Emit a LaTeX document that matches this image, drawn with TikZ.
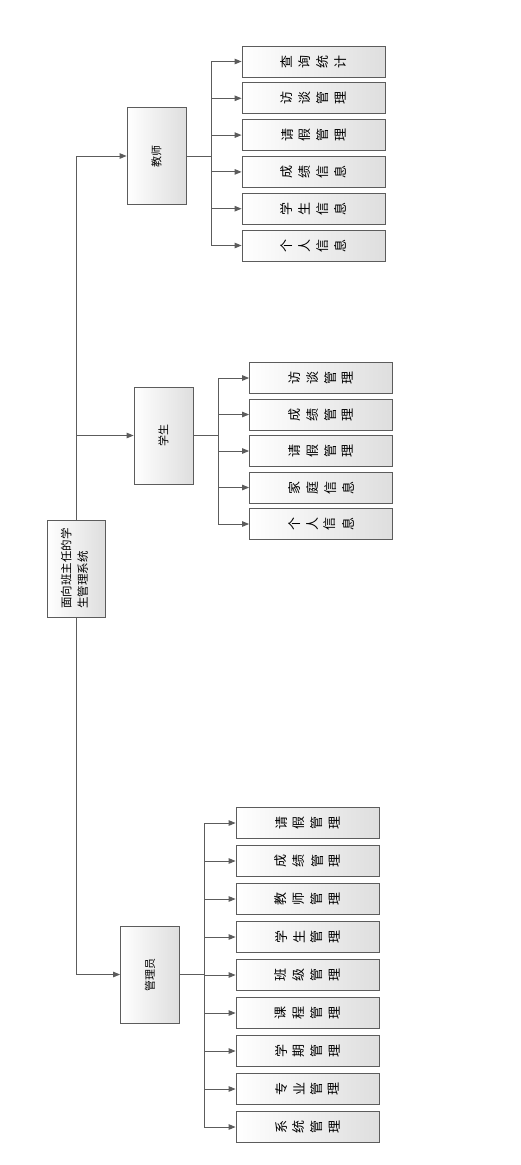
\documentclass[tikz,border=0pt]{standalone}
\usepackage{fontspec}
\setmainfont{Noto Sans CJK SC}
\usepackage{graphicx}
\usetikzlibrary{arrows.meta,positioning}
\definecolor{linegray}{HTML}{5C5C5C}
\definecolor{boxgray}{HTML}{DEDEDE}
% four characters, each turned a quarter
\newcommand{\vchars}[4]{\rotatebox{90}{#1}\hspace{6pt}\rotatebox{90}{#2}\hspace{6pt}\rotatebox{90}{#3}\hspace{6pt}\rotatebox{90}{#4}}
\begin{document}
\begin{tikzpicture}[x=1pt, y=-1pt, >={Triangle[length=7pt,width=5.5pt]}, line/.style={draw=linegray, line width=1pt}]
    % Define styles for boxes
    \tikzstyle{box} = [draw=linegray, line width=0.8pt, rectangle, left color=white, right color=boxgray, inner sep=0pt]
    \tikzstyle{root} = [box, minimum width=58pt, minimum height=97pt, font=\fontsize{11.5}{13}\selectfont]
    \tikzstyle{role} = [box, minimum width=59pt, minimum height=97pt, font=\fontsize{11}{13}\selectfont]
    \tikzstyle{leaf} = [box, minimum width=143pt, minimum height=31pt, font=\fontsize{13}{15}\selectfont]

    \useasboundingbox (0,0) rectangle (520,1165);

    % Nodes placement
    \node [root] (system) at (76,568.5) {\rotatebox{90}{\begin{tabular}{@{}l@{}}面向班主任的学\\[3pt]生管理系统\end{tabular}}};
    \node [role] (teacher) at (156.5,156) {\rotatebox{90}{教师}};
    \node [role] (student) at (163.5,435.5) {\rotatebox{90}{学生}};
    \node [role] (admin) at (150,974.5) {\rotatebox{90}{管理员}};
    \coordinate (fork) at (76,435.5);

    \foreach \ch [count=\i] in {查询统计,访谈管理,请假管理,成绩信息,学生信息,个人信息}
        \node [leaf] (t\i) at ({313.5},{61.5+36.8*(\i-1)}) {\expandafter\vchars\ch};
    \foreach \ch [count=\i] in {访谈管理,成绩管理,请假管理,家庭信息,个人信息}
        \node [leaf] (s\i) at ({321},{378+36.5*(\i-1)}) {\expandafter\vchars\ch};
    \foreach \ch [count=\i] in {请假管理,成绩管理,教师管理,学生管理,班级管理,课程管理,学期管理,专业管理,系统管理}
        \node [leaf] (a\i) at ({307.5},{823+38*(\i-1)}) {\expandafter\vchars\ch};

    % Draw edges
    \draw[line,->] (system.north) |- (teacher.west);
    \draw[line,->] (fork) -- (student.west);
    \draw[line,->] (system.south) |- (admin.west);

    \foreach \i in {1,...,6}
        \draw[line,->] (teacher.east) -- ++(25,0) |- (t\i.west);
    \foreach \i in {1,...,5}
        \draw[line,->] (student.east) -- ++(25,0) |- (s\i.west);
    \foreach \i in {1,...,9}
        \draw[line,->] (admin.east) -- ++(25,0) |- (a\i.west);
\end{tikzpicture}
\end{document}
